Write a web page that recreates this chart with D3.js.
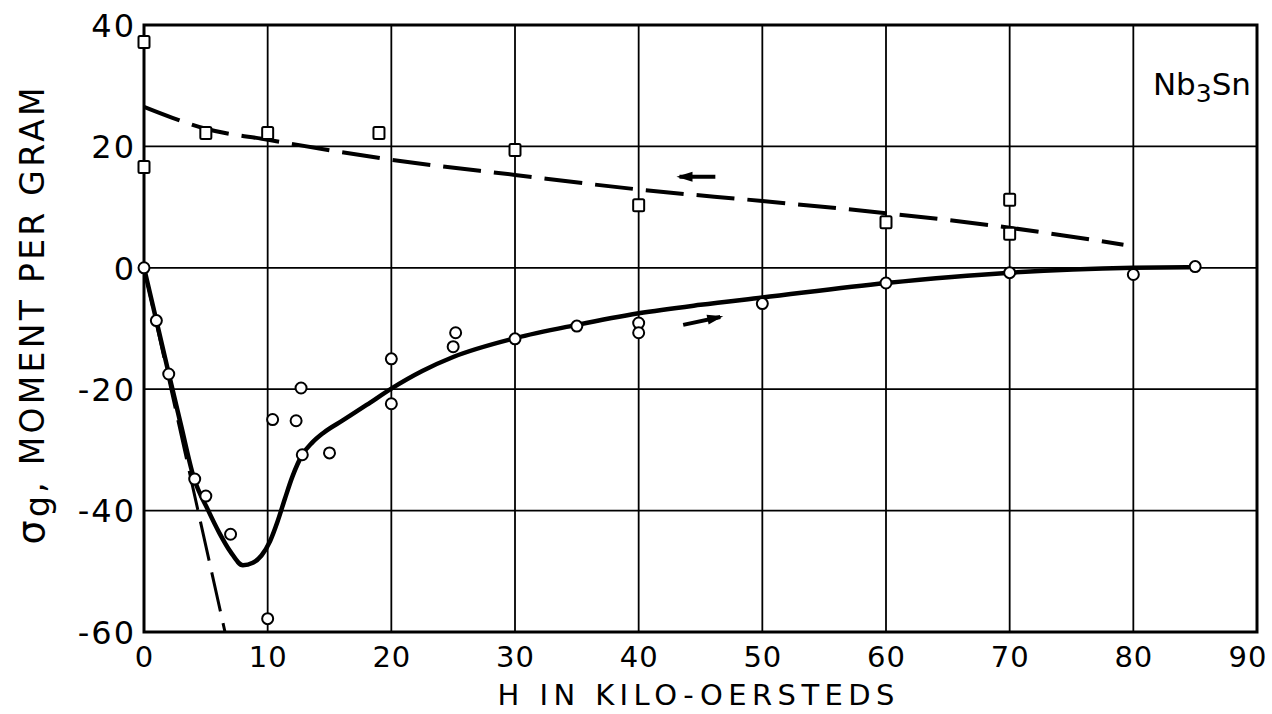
<!DOCTYPE html>
<html>
<head>
<meta charset="utf-8">
<script src="https://cdn.jsdelivr.net/npm/d3@7"></script>
<style>
body{margin:0;background:#fff;}
svg{display:block;}
text{font-family:"DejaVu Sans",sans-serif;fill:#000;}
</style>
</head>
<body>
<div id="chartwrap"></div>
<script>
// tick values
var xTicks = [0,10,20,30,40,50,60,70,80,90];
var yTicks = [40,20,0,-20,-40,-60];

// squares: field decreasing
var downH = [0, 0, 5, 10, 19, 30, 40, 60, 70, 70];
var downS = [37.2, 16.6, 22.2, 22.2, 22.2, 19.4, 10.3, 7.5, 11.2, 5.6];

// circles: field increasing
var upH = [0, 1, 2, 4.1, 5, 7, 10, 10.4, 12.3, 12.7, 12.8, 15, 20, 20, 25.2, 25, 30, 35, 40, 40, 50, 60, 70, 80, 85];
var upS = [0, -8.7, -17.5, -34.8, -37.6, -43.9, -57.8, -25, -25.2, -19.8, -30.8, -30.5, -15, -22.4, -10.7, -13, -11.7, -9.6, -9.1, -10.7, -5.9, -2.5, -0.8, -1.1, 0.2];

// solid fitted curve (increasing field)
var curveH = [0, 1, 2, 3, 4, 5.2, 6.1, 7, 8, 8.8, 9.5, 10.2, 10.8, 11.4, 12, 12.8, 13.6, 14.5, 16.1, 18, 20, 22.5, 25, 30, 35, 40, 45, 50, 60, 70, 80, 84.5];
var curveS = [0, -8.7, -17.4, -26, -34.4, -40, -43.7, -46.8, -49, -48.6, -47.4, -45, -41.8, -38, -34.4, -30.8, -28.8, -27.2, -25.1, -22.6, -19.9, -17, -14.7, -11.6, -9.4, -7.5, -6.1, -4.9, -2.5, -0.8, 0, 0.1];

// dashed curve (decreasing field)
var dashH = [0, 2.3, 5, 10, 20, 30, 40, 50, 60, 70, 79.2];
var dashS = [26.5, 24.7, 22.9, 21.1, 17.8, 15.3, 12.9, 11, 9, 6.6, 3.8];

// dashed initial slope line
var slopeH = [0, 6.55];
var slopeS = [0, -60];

// direction arrows [from, to]
var arrowH = [[46.2, 43.3], [43.6, 46.6]];
var arrowS = [[15.0, 15.0], [-9.4, -8.1]];

var margin = {left:144, right:15, top:25, bottom:82};
var W = 1272, H = 714;
var width = W - margin.left - margin.right;
var height = H - margin.top - margin.bottom;

var svg = d3.select("#chartwrap").append("svg").attr("width",W).attr("height",H);
var g = svg.append("g").attr("transform","translate("+margin.left+","+margin.top+")");

var x = d3.scaleLinear().domain([0,90]).range([0,width]);
var y = d3.scaleLinear().domain([-60,40]).range([height,0]);

//grid
g.append("g").selectAll("line.vgrid").data(xTicks).enter().append("line")
 .attr("x1",function(d){return x(d)}).attr("x2",function(d){return x(d)})
 .attr("y1",0).attr("y2",height)
 .attr("stroke","#000").attr("stroke-width",1.8);
g.append("g").selectAll("line.hgrid").data(yTicks).enter().append("line")
 .attr("x1",0).attr("x2",width)
 .attr("y1",function(d){return y(d)}).attr("y2",function(d){return y(d)})
 .attr("stroke","#000").attr("stroke-width",1.8);

//frame
g.append("rect").attr("x",0).attr("y",0).attr("width",width).attr("height",height)
 .attr("fill","none").attr("stroke","#000").attr("stroke-width",3);

//tick labels
var xAxis = g.append("g").attr("transform","translate(0,"+height+")")
 .call(d3.axisBottom(x).tickValues(xTicks).tickSize(0).tickPadding(14));
xAxis.select(".domain").remove();
xAxis.selectAll("text").style("font-size","29px").attr("fill","#000")
 .attr("dy","0.71em").style("letter-spacing","1px");
//last label sits inside the page edge
xAxis.selectAll("text").filter(function(d){return d==90})
 .attr("text-anchor","end").attr("x",10);

var yAxis = g.append("g")
 .call(d3.axisLeft(y).tickValues(yTicks).tickSize(0).tickPadding(8)
   .tickFormat(function(d){return d<0 ? "-"+Math.abs(d) : d}));
yAxis.select(".domain").remove();
yAxis.selectAll("text").style("font-size","32px").attr("fill","#000")
 .style("letter-spacing","2px").attr("dy","0.35em");

//curves
var line = d3.line().x(function(d){return x(d[0])}).y(function(d){return y(d[1])});

g.append("path").datum(d3.zip(slopeH,slopeS))
 .attr("d",line).attr("fill","none").attr("stroke","#000")
 .attr("stroke-width",3).attr("stroke-dasharray","40,12");

g.append("path").datum(d3.zip(dashH,dashS))
 .attr("d",line.curve(d3.curveMonotoneX)).attr("fill","none").attr("stroke","#000")
 .attr("stroke-width",4).attr("stroke-dasharray","38,13");

g.append("path").datum(d3.zip(curveH,curveS))
 .attr("d",line.curve(d3.curveMonotoneX)).attr("fill","none").attr("stroke","#000")
 .attr("stroke-width",4.5);

//arrows
arrowH.forEach(function(h,i){
	var x0 = x(h[0]), y0 = y(arrowS[i][0]), x1 = x(h[1]), y1 = y(arrowS[i][1]);
	var a = Math.atan2(y1-y0, x1-x0);
	g.append("line").attr("x1",x0).attr("y1",y0).attr("x2",x1).attr("y2",y1)
	 .attr("stroke","#000").attr("stroke-width",4);
	var L = 13, w = 5;
	var p = [[x1+3*Math.cos(a), y1+3*Math.sin(a)],
	         [x1-L*Math.cos(a)+w*Math.sin(a), y1-L*Math.sin(a)-w*Math.cos(a)],
	         [x1-L*Math.cos(a)-w*Math.sin(a), y1-L*Math.sin(a)+w*Math.cos(a)]];
	g.append("path").attr("d","M"+p.join("L")+"Z").attr("fill","#000");
});

//markers
g.append("g").selectAll("rect.sq").data(d3.zip(downH,downS)).enter().append("rect")
 .attr("x",function(d){return x(d[0])-5.5}).attr("y",function(d){return y(d[1])-6})
 .attr("width",11).attr("height",12).attr("rx",1.5)
 .attr("fill","#fff").attr("stroke","#000").attr("stroke-width",2);

g.append("g").selectAll("circle.pt").data(d3.zip(upH,upS)).enter().append("circle")
 .attr("cx",function(d){return x(d[0])}).attr("cy",function(d){return y(d[1])})
 .attr("r",5.5).attr("fill","#fff").attr("stroke","#000").attr("stroke-width",2);

//label
var lab = g.append("text").attr("x",x(90)-6).attr("y",y(40)+70)
 .attr("text-anchor","end").style("font-size","31px");
lab.append("tspan").text("Nb");
lab.append("tspan").attr("dy",7).style("font-size","25px").text("3");
lab.append("tspan").attr("dy",-7).text("Sn");

//axis titles
svg.append("text").attr("x",696).attr("y",705).attr("text-anchor","middle")
 .style("font-size","29px").attr("textLength",397).attr("lengthAdjust","spacing")
 .text("H IN KILO-OERSTEDS");

var yt = svg.append("text").attr("transform","translate(44,316) rotate(-90)")
 .attr("text-anchor","middle").style("font-size","33px")
 .attr("textLength",457).attr("lengthAdjust","spacing");
yt.append("tspan").style("font-size","38px").text("σ");
yt.append("tspan").attr("dy",5).text("g");
yt.append("tspan").attr("dy",-5).text(", MOMENT PER GRAM");
</script>
</body>
</html>
